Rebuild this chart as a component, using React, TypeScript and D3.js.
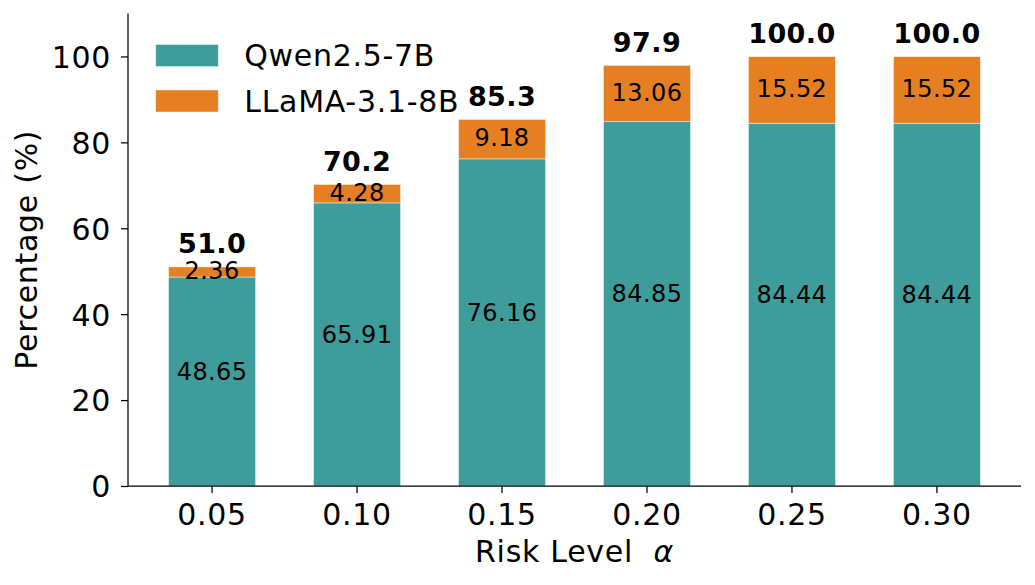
import { useEffect, useRef } from 'react';
import * as d3 from 'd3';

const riskLevels = ['0.05', '0.10', '0.15', '0.20', '0.25', '0.30'];
const qwenValues = [48.65, 65.91, 76.16, 84.85, 84.44, 84.44];
const llamaValues = [2.36, 4.28, 9.18, 13.06, 15.52, 15.52];
const yTickValues = [0, 20, 40, 60, 80, 100];
const seriesNames = ['Qwen2.5-7B', 'LLaMA-3.1-8B'];

const WIDTH = 1035;
const HEIGHT = 585;
const FONT = '"DejaVu Sans", sans-serif';
const TEAL = '#3e9d9a';
const ORANGE = '#e67f22';
const BIG = 30;
const BIG_SPACING = '0.7px';
const SMALL = 24;
const SMALL_SPACING = '0.4px';

export default function App() {
  const svgRef = useRef<SVGSVGElement>(null);

  useEffect(() => {
    const svgEl = d3.select(svgRef.current!);
    svgEl.selectAll('*').remove();

    const plotLeft = 128;
    const plotRight = 1021;
    const plotTop = 13.5;
    const plotBottom = 486;

    const xScale = d3
      .scaleBand<string>()
      .domain(riskLevels)
      .range([plotLeft, plotRight])
      .paddingInner(0.4)
      .paddingOuter(0.28);

    const yScale = d3.scaleLinear().domain([0, 110]).range([plotBottom, plotTop]);

    const rows = riskLevels.map((level, i) => ({
      level,
      qwen: qwenValues[i],
      llama: llamaValues[i],
      total: qwenValues[i] + llamaValues[i]
    }));

    // bars
    const barGroup = svgEl.append('g');
    barGroup
      .selectAll('rect.qwen')
      .data(rows)
      .enter()
      .append('rect')
      .attr('x', (d) => xScale(d.level)!)
      .attr('width', xScale.bandwidth())
      .attr('y', (d) => yScale(d.qwen))
      .attr('height', (d) => yScale(0) - yScale(d.qwen))
      .attr('fill', TEAL)
      .attr('stroke', '#ffffff')
      .attr('stroke-opacity', 0.55)
      .attr('stroke-width', 0.8);

    barGroup
      .selectAll('rect.llama')
      .data(rows)
      .enter()
      .append('rect')
      .attr('x', (d) => xScale(d.level)!)
      .attr('width', xScale.bandwidth())
      .attr('y', (d) => yScale(d.total))
      .attr('height', (d) => yScale(d.qwen) - yScale(d.total))
      .attr('fill', ORANGE)
      .attr('stroke', '#ffffff')
      .attr('stroke-opacity', 0.55)
      .attr('stroke-width', 0.8);

    const cx = (d: { level: string }) => xScale(d.level)! + xScale.bandwidth() / 2;

    // segment labels
    const labelGroup = svgEl
      .append('g')
      .attr('font-family', FONT)
      .attr('text-anchor', 'middle')
      .attr('fill', '#000');

    labelGroup
      .selectAll('text.qwen')
      .data(rows)
      .enter()
      .append('text')
      .attr('x', cx)
      .attr('y', (d) => yScale(d.qwen / 2) - 10 + 8.7)
      .attr('font-size', SMALL)
      .attr('letter-spacing', SMALL_SPACING)
      .text((d) => d.qwen.toFixed(2));

    labelGroup
      .selectAll('text.llama')
      .data(rows)
      .enter()
      .append('text')
      .attr('x', cx)
      .attr('y', (d) => yScale(d.qwen + d.llama / 2) - 1.5 + 8.7)
      .attr('font-size', SMALL)
      .attr('letter-spacing', SMALL_SPACING)
      .text((d) => d.llama.toFixed(2));

    labelGroup
      .selectAll('text.total')
      .data(rows)
      .enter()
      .append('text')
      .attr('x', cx)
      .attr('y', (d) => yScale(d.total) - 13.5)
      .attr('font-size', 27)
      .attr('letter-spacing', SMALL_SPACING)
      .attr('font-weight', 'bold')
      .text((d) => d.total.toFixed(1));

    // x axis
    svgEl
      .append('g')
      .attr('transform', `translate(0,${plotBottom})`)
      .call(d3.axisBottom(xScale).tickSize(7).tickPadding(10))
      .call((g) => {
        g.select('.domain').attr('stroke', '#000').attr('stroke-width', 1.25).attr('d', `M${plotLeft},0H${plotRight}`);
        g.selectAll('.tick line').attr('stroke', '#000').attr('stroke-width', 1.25);
        g.selectAll('.tick text')
          .attr('font-family', FONT)
          .attr('font-size', BIG)
          .attr('letter-spacing', BIG_SPACING)
          .attr('fill', '#000')
          .attr('dy', null)
          .attr('y', 39);
      });

    // y axis
    svgEl
      .append('g')
      .attr('transform', `translate(${plotLeft},0)`)
      .call(d3.axisLeft(yScale).tickValues(yTickValues).tickSize(7).tickPadding(10))
      .call((g) => {
        g.select('.domain').attr('stroke', '#000').attr('stroke-width', 1.25).attr('d', `M0,${plotTop}V${plotBottom}`);
        g.selectAll('.tick line').attr('stroke', '#000').attr('stroke-width', 1.25);
        g.selectAll('.tick text')
          .attr('font-family', FONT)
          .attr('font-size', BIG)
          .attr('letter-spacing', BIG_SPACING)
          .attr('fill', '#000')
          .attr('dy', null)
          .attr('y', 10.9);
      });

    // axis titles
    const xTitle = svgEl
      .append('text')
      .attr('x', (plotLeft + plotRight) / 2)
      .attr('y', 561.7)
      .attr('text-anchor', 'middle')
      .attr('font-family', FONT)
      .attr('font-size', BIG)
      .attr('letter-spacing', BIG_SPACING)
      .attr('fill', '#000')
      .attr('xml:space', 'preserve');
    xTitle.append('tspan').text('Risk Level  ');
    xTitle.append('tspan').attr('font-style', 'italic').text('α');

    svgEl
      .append('text')
      .attr('transform', `translate(36.6,${(plotTop + plotBottom) / 2}) rotate(-90)`)
      .attr('text-anchor', 'middle')
      .attr('font-family', FONT)
      .attr('font-size', BIG)
      .attr('letter-spacing', BIG_SPACING)
      .attr('fill', '#000')
      .text('Percentage (%)');

    // legend
    const legend = svgEl
      .append('g')
      .attr('font-family', FONT)
      .attr('font-size', BIG)
      .attr('letter-spacing', BIG_SPACING);
    const legendColors = [TEAL, ORANGE];
    seriesNames.forEach((name, i) => {
      const rowY = 55.5 + i * 45.5;
      legend
        .append('rect')
        .attr('x', 155.7)
        .attr('y', rowY - 11)
        .attr('width', 62.6)
        .attr('height', 22)
        .attr('fill', legendColors[i])
        .attr('stroke', '#ffffff')
        .attr('stroke-opacity', 0.55)
        .attr('stroke-width', 0.8);
      legend
        .append('text')
        .attr('x', 244.3)
        .attr('y', rowY + 10.9)
        .attr('fill', '#000')
        .text(name);
    });
  }, []);

  return (
    <svg
      ref={svgRef}
      width={WIDTH}
      height={HEIGHT}
      style={{ position: 'absolute', left: 0, top: 0, background: '#fff' }}
    />
  );
}
